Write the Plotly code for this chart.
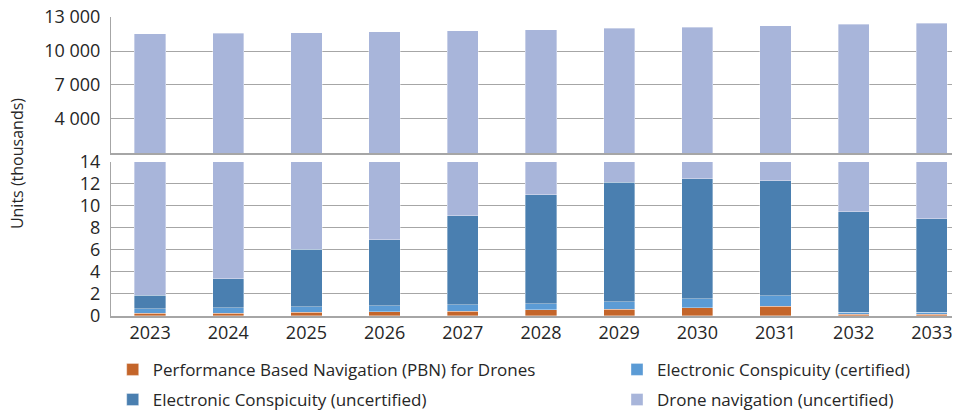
import plotly.graph_objects as go

years = ["2023", "2024", "2025", "2026", "2027", "2028", "2029", "2030", "2031", "2032", "2033"]
pbn = [0.24, 0.27, 0.34, 0.39, 0.45, 0.55, 0.60, 0.73, 0.88, 0.15, 0.15]
ec_cert = [0.40, 0.46, 0.48, 0.52, 0.55, 0.57, 0.70, 0.82, 0.94, 0.21, 0.21]
ec_uncert = [1.26, 2.66, 5.27, 6.03, 8.12, 9.91, 10.85, 10.93, 10.48, 9.12, 8.46]
totals = [11530, 11550, 11615, 11700, 11790, 11880, 11995, 12115, 12230, 12350, 12470]
drone_nav = [t - a - b - c for t, a, b, c in zip(totals, pbn, ec_cert, ec_uncert)]

names = ["Performance Based Navigation (PBN) for Drones", "Electronic Conspicuity (certified)",
         "Electronic Conspicuity (uncertified)", "Drone navigation (uncertified)"]
series = [pbn, ec_cert, ec_uncert, drone_nav]
colors = ["#C4652A", "#5B9BD5", "#4A7FB0", "#A8B5DA"]
legend_ids = ["legend", "legend2", "legend", "legend2"]

top_ticks = [4000, 7000, 10000, 13000]
bottom_ticks = [0, 2, 4, 6, 8, 10, 12, 14]

FONT = "Open Sans"
TXT = "#262626"
GRID = "#A6A6A6"

fig = go.Figure()
for i, (name, vals, col) in enumerate(zip(names, series, colors)):
    fig.add_trace(go.Bar(x=years, y=vals, name=name,
                         marker=dict(color=col, line=dict(color="rgba(255,255,255,0.6)", width=0.6)),
                         xaxis="x", yaxis="y", showlegend=True, legend=legend_ids[i],
                         legendgroup="g%d" % i))
for i, (name, vals, col) in enumerate(zip(names, series, colors)):
    fig.add_trace(go.Bar(x=years, y=vals, name=name,
                         marker=dict(color=col, line=dict(color="rgba(255,255,255,0.6)", width=0.6)),
                         xaxis="x2", yaxis="y2", showlegend=False, legendgroup="g%d" % i))

# page body has an 8px margin, so the figure is 952x403 starting at (8, 8)
xr = [-0.5, 10.36]
leg_common = dict(orientation="v", yanchor="top", xanchor="left", traceorder="grouped",
                  font=dict(size=17, color=TXT), tracegroupgap=5, bgcolor="rgba(0,0,0,0)")
fig.update_layout(
    width=952, height=403,
    margin=dict(l=103, r=0, t=9, b=95, autoexpand=False),
    barmode="stack", bargap=0.6,
    plot_bgcolor="white", paper_bgcolor="white",
    separators=". ",
    font=dict(family=FONT, size=16, color=TXT),
    xaxis=dict(domain=[0, 1], anchor="y", range=xr, showline=True, linecolor=GRID, linewidth=1.5,
               ticks="", tickfont=dict(size=18, color=TXT), showgrid=False),
    yaxis=dict(domain=[0, 0.5151], range=[0, 14], tickvals=bottom_ticks, showgrid=True, gridcolor=GRID,
               gridwidth=1, showline=True, linecolor=GRID, ticks="", zeroline=False,
               ticklabelstandoff=6, ticklabeloverflow="allow", tickfont=dict(size=18, color=TXT)),
    xaxis2=dict(domain=[0, 1], anchor="y2", range=xr, showline=True, linecolor=GRID, linewidth=1.5,
                showticklabels=False, ticks="", showgrid=False),
    yaxis2=dict(domain=[0.5452, 1], range=[1000, 13000], tickvals=top_ticks, tickformat=",d",
                showgrid=True, gridcolor=GRID, gridwidth=1, showline=True, linecolor=GRID, ticks="",
                zeroline=False, ticklabelstandoff=6, ticklabeloverflow="allow",
                tickfont=dict(size=18, color=TXT)),
    legend=dict(x=0.002, y=-0.12, **leg_common),
    legend2=dict(x=0.596, y=-0.12, **leg_common),
    annotations=[dict(text="Units (thousands)", xref="paper", yref="paper", x=-0.1107, y=0.508,
                      textangle=-90, showarrow=False, font=dict(size=16, color=TXT),
                      xanchor="center", yanchor="middle")],
)
fig.write_html("out.html")
